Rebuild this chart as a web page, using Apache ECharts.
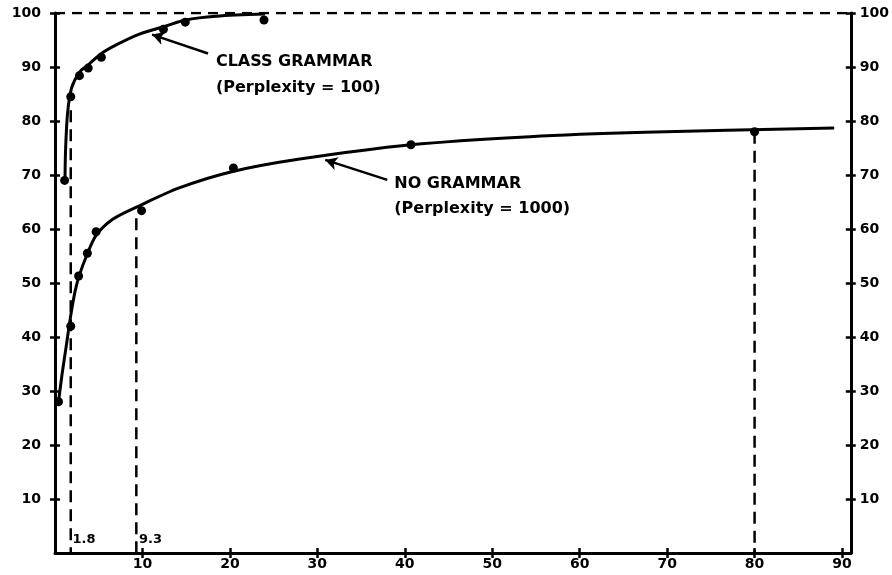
<!DOCTYPE html>
<html>
<head>
<meta charset="utf-8">
<script src="https://cdn.jsdelivr.net/npm/echarts@6/dist/echarts.min.js"></script>
<style>
html,body{margin:0;padding:0;background:#fff;}
#chart{width:892px;height:575px;}
</style>
</head>
<body>
<div id="chart"></div>
<script>
// ---- data ----
const xTicks = [10, 20, 30, 40, 50, 60, 70, 80, 90];
const yTicks = [10, 20, 30, 40, 50, 60, 70, 80, 90, 100];

// CLASS GRAMMAR (Perplexity = 100) measured points
const classX = [1.1, 1.8, 2.8, 3.8, 5.3, 12.4, 14.9, 23.9];
const classY = [69, 84.5, 88.4, 89.8, 91.8, 97.0, 98.3, 98.7];
// hand-drawn fit curve (traced)
const classFitX = [1.14, 1.21, 1.44, 1.89, 2.84, 3.8, 5.3, 7.0, 9.65, 12.7, 14.9, 18.4, 24.0];
const classFitY = [68.8, 74.7, 81.5, 86.1, 89.1, 90.4, 92.5, 94.1, 96.1, 97.6, 98.7, 99.4, 99.8];

// NO GRAMMAR (Perplexity = 1000) measured points
const noX = [0.4, 1.8, 2.7, 3.7, 4.7, 9.9, 20.4, 40.7, 80];
const noY = [28, 42, 51.3, 55.5, 59.5, 63.4, 71.3, 75.6, 78];
// hand-drawn fit curve (traced)
const noFitX = [0.4, 0.8, 1.3, 1.8, 2.3, 2.8, 3.6, 4.7, 6.6, 9.65, 14.2, 20.2, 27.8, 40.7, 54.3, 67.5, 89.1];
const noFitY = [28, 33, 38.5, 44, 48.5, 51.5, 55, 58.8, 61.8, 64.3, 67.6, 70.6, 72.9, 75.6, 77.1, 77.9, 78.7];

// dashed drop lines
const dropX = [1.8, 9.3, 80];
const dropTop = [82, 62, 78];
const dropLabels = ['1.8', '9.3'];
const dropLabelX = [2.0, 9.6];
const dropLabelY = [2.4, 2.4];

// 100% reference line
const refY = 100;
const xMin = 0, xMax = 91;

// annotations
const classLabel = ['CLASS GRAMMAR', '(Perplexity = 100)'];
const classLabelX = [18.4, 18.4];
const classLabelY = [90.9, 86.1];
const classArrowFrom = [17.5, 92.5];
const classArrowTo = [11.1, 96.0];

const noLabel = ['NO GRAMMAR', '(Perplexity = 1000)'];
const noLabelX = [38.8, 38.8];
const noLabelY = [68.4, 63.8];
const noArrowFrom = [38.0, 69.1];
const noArrowTo = [30.9, 72.8];

// ---- chart ----
const FONT = 'DejaVu Sans';
const BLACK = '#000';
const chart = echarts.init(document.getElementById('chart'), null, {renderer: 'canvas'});

const zip = (a, b) => a.map((v, i) => [v, b[i]]);

const series = [];
// top dashed line at 100
series.push({
  type: 'line', xAxisIndex: 0, yAxisIndex: 0, symbol: 'none', silent: true,
  data: [[xMin, refY], [xMax, refY]],
  lineStyle: {color: BLACK, width: 2.5, type: [10, 7]}
});
// drop lines
dropX.forEach((x, i) => {
  series.push({
    type: 'line', xAxisIndex: 0, yAxisIndex: 0, symbol: 'none', silent: true,
    data: [[x, dropTop[i]], [x, 0]],
    lineStyle: {color: BLACK, width: 2.5, type: [12, 7]}
  });
});
// fit curves
series.push({
  type: 'line', xAxisIndex: 0, yAxisIndex: 0, symbol: 'none', smooth: 0.3,
  data: zip(classFitX, classFitY),
  lineStyle: {color: BLACK, width: 3},
  markLine: {
    silent: true, symbol: ['none', 'arrow'], symbolSize: [10, 12],
    lineStyle: {color: BLACK, width: 2.5, type: 'solid', opacity: 1}, label: {show: false},
    data: [[{coord: classArrowFrom}, {coord: classArrowTo}]]
  }
});
series.push({
  type: 'line', xAxisIndex: 0, yAxisIndex: 0, symbol: 'none', smooth: 0.3,
  data: zip(noFitX, noFitY),
  lineStyle: {color: BLACK, width: 3},
  markLine: {
    silent: true, symbol: ['none', 'arrow'], symbolSize: [10, 12],
    lineStyle: {color: BLACK, width: 2.5, type: 'solid', opacity: 1}, label: {show: false},
    data: [[{coord: noArrowFrom}, {coord: noArrowTo}]]
  }
});
// measured points
series.push({
  type: 'scatter', xAxisIndex: 0, yAxisIndex: 0, symbol: 'circle', symbolSize: 9,
  itemStyle: {color: BLACK, opacity: 1}, data: zip(classX, classY)
});
series.push({
  type: 'scatter', xAxisIndex: 0, yAxisIndex: 0, symbol: 'circle', symbolSize: 9,
  itemStyle: {color: BLACK, opacity: 1}, data: zip(noX, noY)
});
// text annotations
function textSeries(xs, ys, texts, size) {
  return {
    type: 'scatter', xAxisIndex: 0, yAxisIndex: 0, symbolSize: 0, silent: true,
    itemStyle: {opacity: 1, color: BLACK},
    data: xs.map((x, i) => ({value: [x, ys[i]], label: {formatter: texts[i]}})),
    label: {
      show: true, position: 'right', distance: 0, align: 'left', verticalAlign: 'middle',
      color: BLACK, opacity: 1, fontFamily: FONT, fontWeight: 'bold', fontSize: size
    }
  };
}
series.push(textSeries(classLabelX, classLabelY, classLabel, 16));
series.push(textSeries(noLabelX, noLabelY, noLabel, 16));
series.push(textSeries(dropLabelX, dropLabelY, dropLabels, 13));

const labelStyle = {color: BLACK, fontFamily: FONT, fontWeight: 'bold', fontSize: 14};

function xAx(inside, showLabels) {
  return {
    type: 'value', min: xMin, max: xMax, position: 'bottom',
    axisLine: {show: !inside, onZero: false, lineStyle: {color: BLACK, width: 3}},
    axisTick: {show: true, inside: inside, length: 5, customValues: xTicks, lineStyle: {color: BLACK, width: 2.5}},
    axisLabel: Object.assign({show: showLabels, margin: 4, customValues: xTicks}, labelStyle),
    splitLine: {show: false}
  };
}
function yAx(pos, inside, showLabels, margin) {
  return {
    type: 'value', min: 0, max: 100, position: pos,
    axisLine: {show: !inside, onZero: false, lineStyle: {color: BLACK, width: 3}},
    axisTick: {show: true, inside: inside, length: 5, customValues: yTicks, lineStyle: {color: BLACK, width: 2.5}},
    axisLabel: Object.assign({show: showLabels, margin: margin, customValues: yTicks}, labelStyle),
    splitLine: {show: false}
  };
}

chart.setOption({
  animation: false,
  backgroundColor: '#fff',
  grid: {left: 55, right: 36, top: 13, bottom: 22, containLabel: false},
  xAxis: [xAx(false, true), xAx(true, false)],
  yAxis: [yAx('left', false, true, 14), yAx('right', false, true, 9), yAx('left', true, false, 0), yAx('right', true, false, 0)],
  series: series
});
</script>
</body>
</html>
